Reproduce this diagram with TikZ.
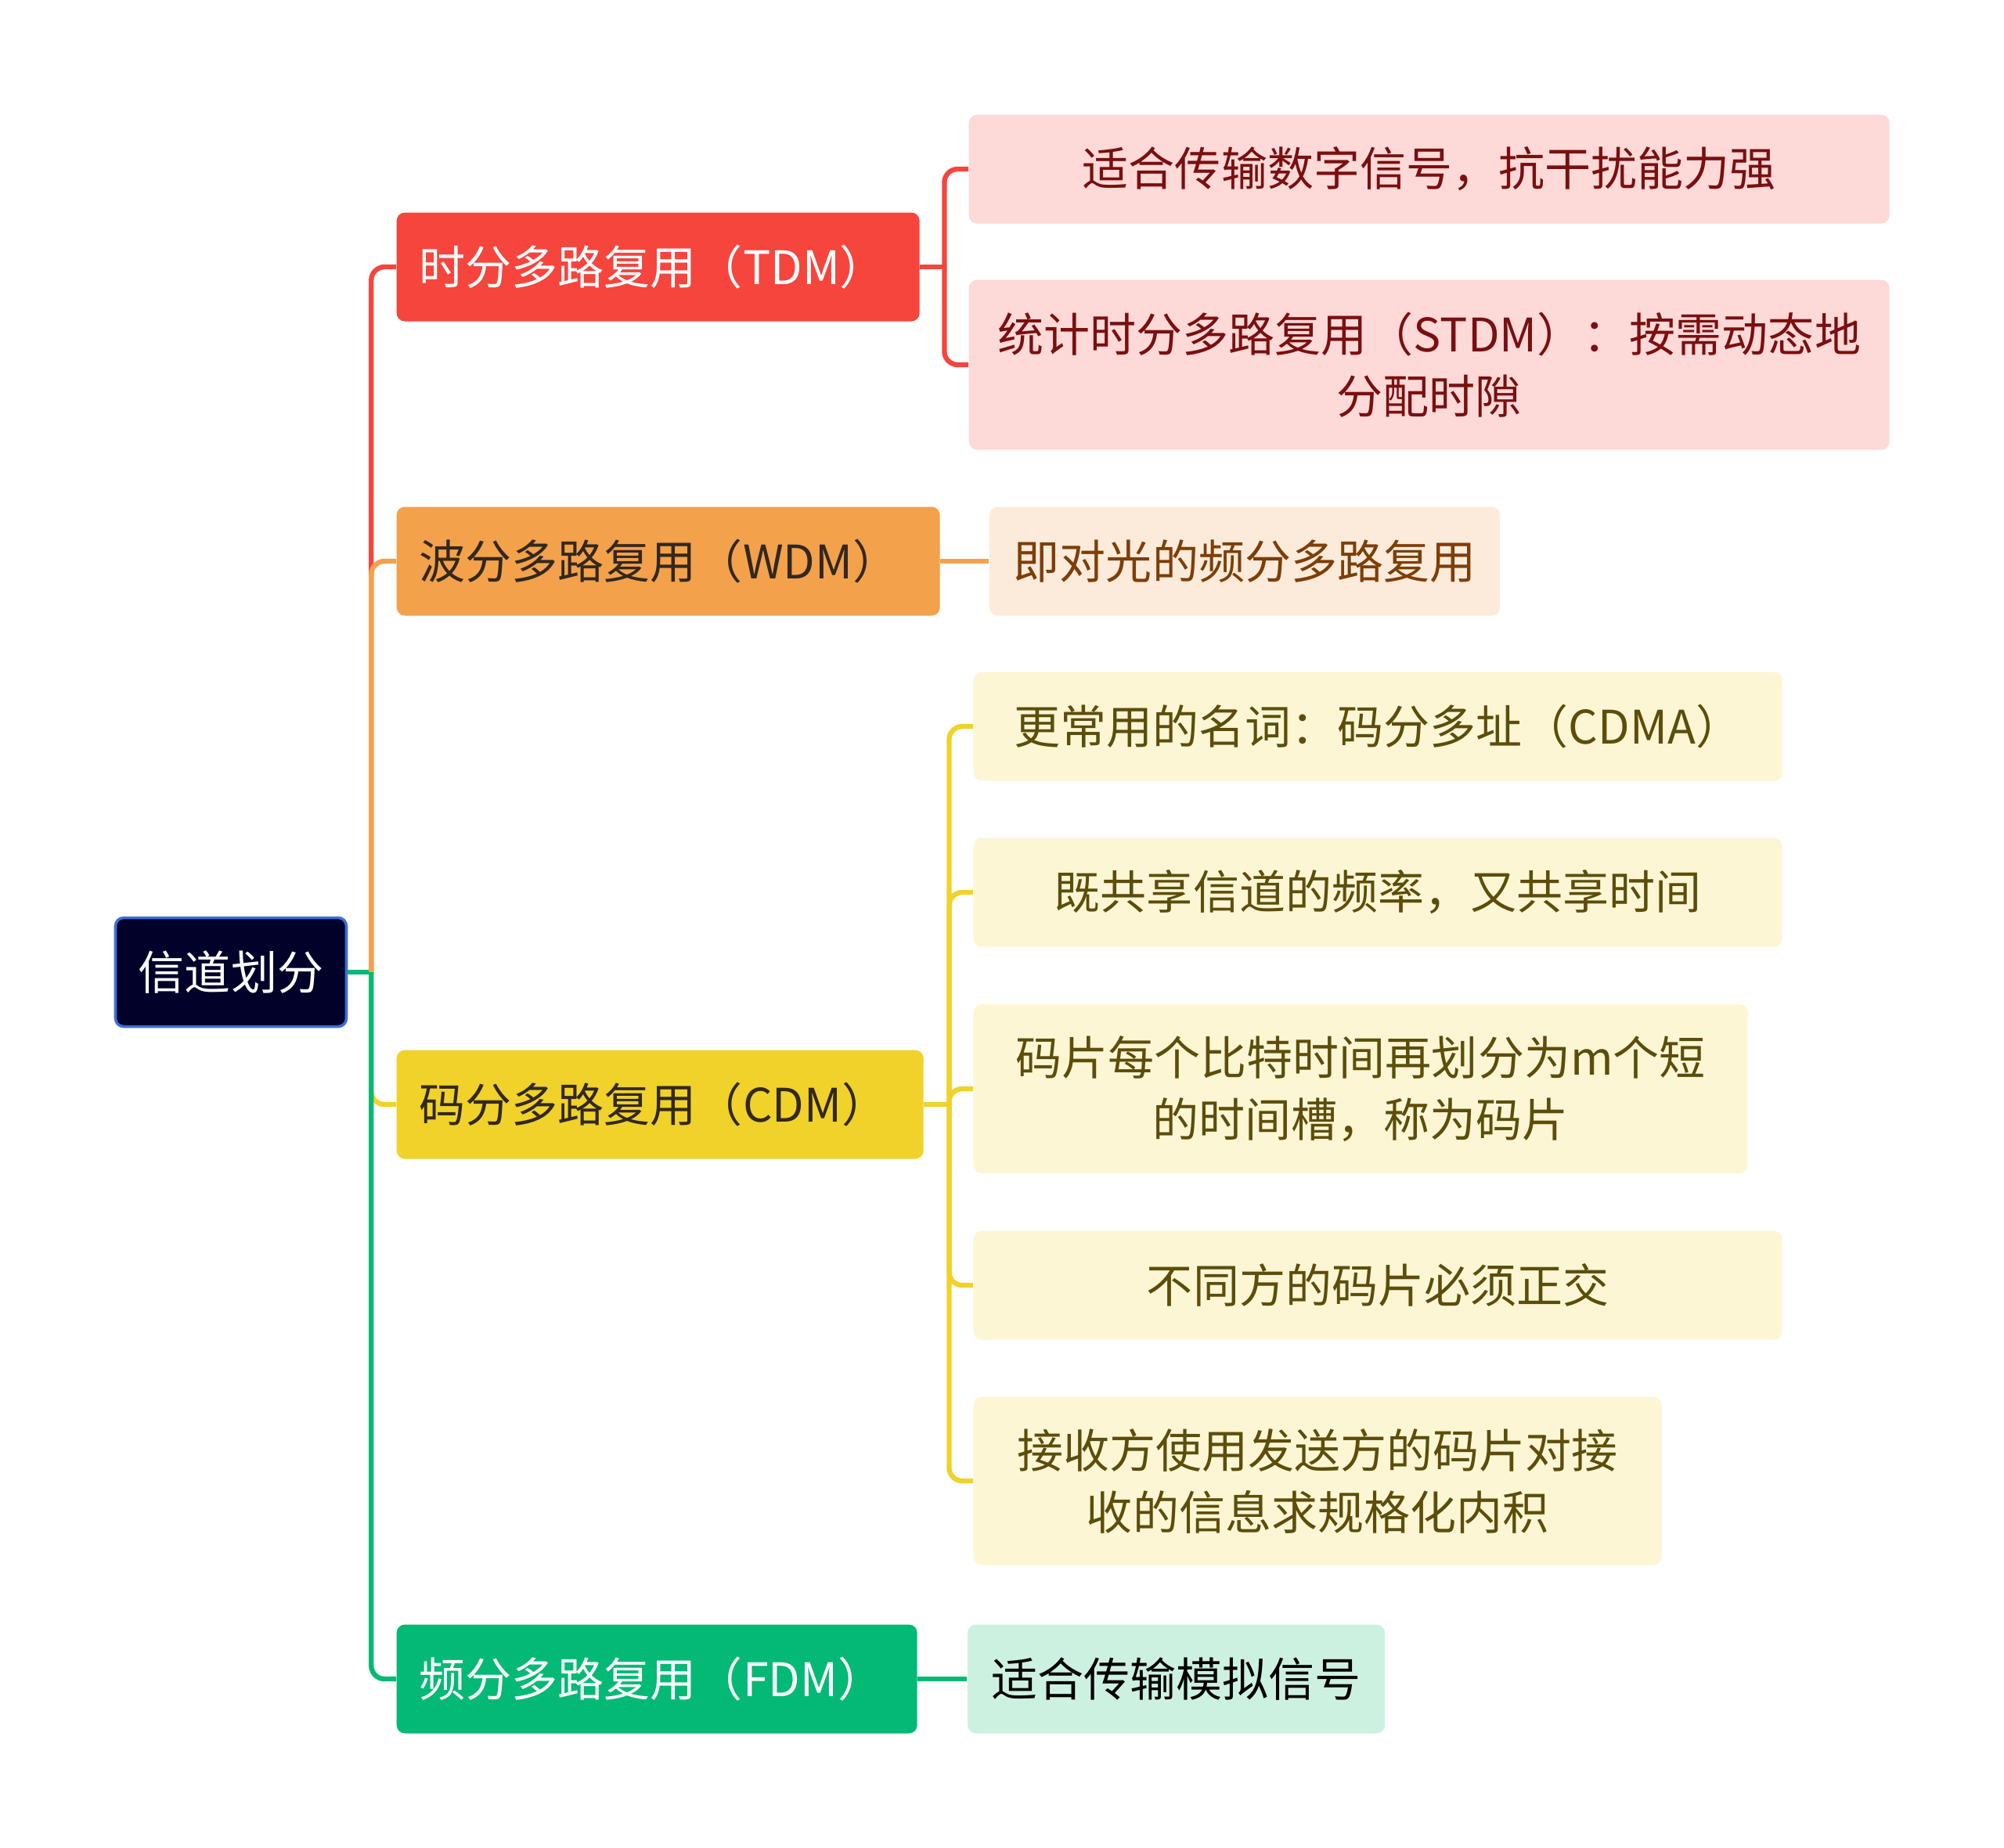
\documentclass[tikz,border=0pt]{standalone}
\usepackage{fontspec}
\setmainfont{Noto Sans CJK SC}
\usepackage{tikz}
\usetikzlibrary{positioning}
\definecolor{rootnavy}{RGB}{2,1,42}
\definecolor{rootedge}{RGB}{60,110,215}
\definecolor{tdmred}{RGB}{245,69,61}
\definecolor{tdmpale}{RGB}{253,217,216}
\definecolor{tdmtext}{RGB}{122,15,15}
\definecolor{wdmorange}{RGB}{244,161,75}
\definecolor{wdmpale}{RGB}{252,235,219}
\definecolor{wdmtext}{RGB}{125,62,8}
\definecolor{cdmyellow}{RGB}{240,210,42}
\definecolor{cdmpale}{RGB}{252,246,213}
\definecolor{cdmtext}{RGB}{92,78,10}
\definecolor{fdmgreen}{RGB}{4,185,117}
\definecolor{fdmpale}{RGB}{205,241,225}
\definecolor{darktext}{RGB}{50,40,30}
\tikzset{
  basebox/.style={rectangle,rounded corners=3pt,align=center,inner sep=0pt,
    font=\fontsize{16.8}{22.5}\selectfont,minimum height=1.39cm},
  rootnode/.style={basebox,fill=rootnavy,draw=rootedge,line width=1pt,text=white,minimum width=2.95cm},
  topicnode/.style={basebox,anchor=west,align=left,inner xsep=0.29cm,text width=#1},
  tdmnode/.style={topicnode=6.10cm,fill=tdmred,text=white},
  wdmnode/.style={topicnode=6.36cm,fill=wdmorange,text=darktext},
  cdmnode/.style={topicnode=6.15cm,fill=cdmyellow,text=darktext},
  fdmnode/.style={topicnode=6.07cm,fill=fdmgreen,text=white},
  tleaf/.style={basebox,anchor=west,fill=tdmpale,text=tdmtext,minimum width=11.76cm},
  wleaf/.style={basebox,fill=wdmpale,text=wdmtext,minimum width=6.52cm},
  cleaf/.style={basebox,anchor=west,fill=cdmpale,text=cdmtext,minimum width=10.33cm},
  fleaf/.style={basebox,fill=fdmpale,text=black,minimum width=5.33cm},
  link/.style={line width=1.8pt,rounded corners=0.17cm},
  redlink/.style={link,color=tdmred},
  orangelink/.style={link,color=wdmorange},
  yellowlink/.style={link,color=cdmyellow},
  greenlink/.style={link,color=fdmgreen}
}

\begin{document}
\begin{tikzpicture}
  \useasboundingbox[fill=white] (0,0) rectangle (25.6,-23.6);

  %% Root and main topics
  \node[rootnode] (root) at (2.95,-12.42) {信道划分};
  \node[tdmnode] (tdm) at (5.06,-3.41) {时分多路复用（TDM）};
  \node[wdmnode] (wdm) at (5.06,-7.17) {波分多路复用（WDM）};
  \node[cdmnode] (cdm) at (5.06,-14.11) {码分多路复用（CDM）};
  \node[fdmnode] (fdm) at (5.06,-21.45) {频分多路复用（FDM）};

  %% Leaves
  \node[tleaf] (tfit) at (12.37,-2.16) {适合传输数字信号，抗干扰能力强};
  \node[tleaf,minimum height=2.17cm] (tstdm) at (12.37,-4.66) {统计时分多路复用（STDM）：按需动态地\\分配时隙};
  \node[wleaf,right=0.62cm of wdm] (wlight) {即对光的频分多路复用};
  \node[cleaf] (cname) at (12.43,-9.28) {更常用的名词：码分多址（CDMA）};
  \node[cleaf] (cshare) at (12.43,-11.40) {既共享信道的频率，又共享时间};
  \node[cleaf,minimum width=9.89cm,minimum height=2.16cm] (cchip) at (12.43,-13.91) {码片每个比特时间再划分为m个短\\的时间槽，称为码片};
  \node[cleaf] (cortho) at (12.43,-16.42) {不同方的码片必须正交};
  \node[cleaf,minimum width=8.79cm,minimum height=2.15cm] (cinner) at (12.43,-18.92) {接收方使用发送方的码片对接\\收的信息求规格化内积};
  \node[fleaf,right=0.63cm of fdm] (fanalog) {适合传输模拟信号};

  %% Connectors
  \draw[greenlink] (root.east) -- ++(0.3,0) coordinate (rootbus);
  \draw[redlink] (rootbus) |- (tdm.west);
  \draw[orangelink] (rootbus) |- (wdm.west);
  \draw[yellowlink] (rootbus) |- (cdm.west);
  \draw[greenlink] (rootbus) |- (fdm.west);

  \draw[redlink] (tdm.east) -- ++(0.31,0) coordinate (tdmbus);
  \draw[redlink] (tdmbus) |- (tfit.west); \draw[redlink] (tdmbus) |- (tstdm.west);
  \draw[orangelink] (wdm) -- (wlight);
  \draw[yellowlink] (cdm.east) -- ++(0.32,0) coordinate (cdmbus);
  \draw[yellowlink] (cdmbus) |- (cname.west); \draw[yellowlink] (cdmbus) |- (cshare.west);
  \draw[yellowlink] (cdmbus) |- (cchip.west); \draw[yellowlink] (cdmbus) |- (cortho.west);
  \draw[yellowlink] (cdmbus) |- (cinner.west);
  \draw[greenlink] (fdm) -- (fanalog);
\end{tikzpicture}
\end{document}
